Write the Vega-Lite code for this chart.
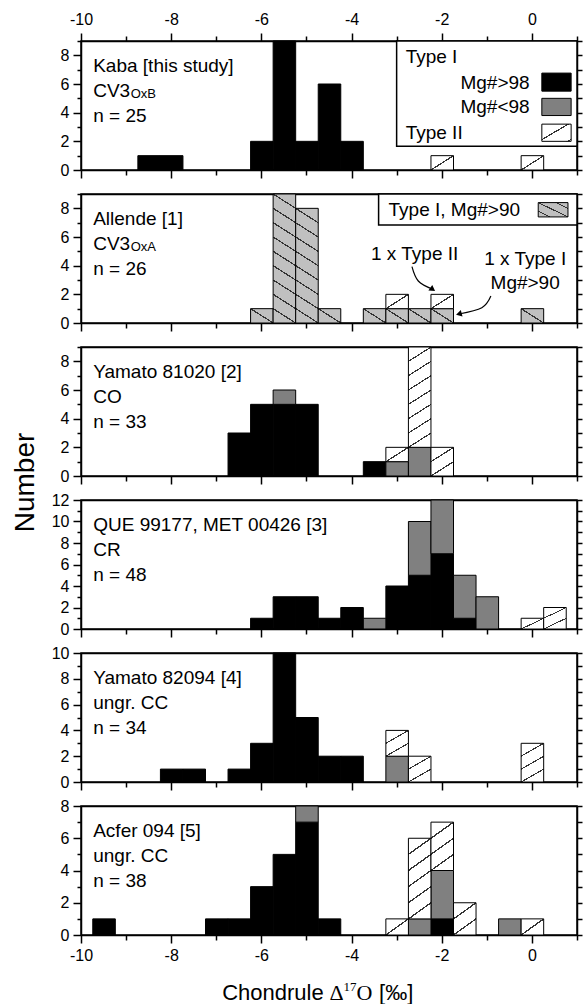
{
 "$schema": "https://vega.github.io/schema/vega-lite/v6.json",
 "padding": {"left": 10, "top": 10, "right": 2, "bottom": 2},
 "background": "white",
 "spacing": 24,
 "bounds": "flush",
 "datasets": {
  "counts": [
   {"p":1,"lo":-8.75,"hi":-8.25,"type":"I>98","grp":1,"n":1},
   {"p":1,"lo":-8.25,"hi":-7.75,"type":"I>98","grp":1,"n":1},
   {"p":1,"lo":-6.25,"hi":-5.75,"type":"I>98","grp":1,"n":2},
   {"p":1,"lo":-5.75,"hi":-5.25,"type":"I>98","grp":1,"n":9},
   {"p":1,"lo":-5.25,"hi":-4.75,"type":"I>98","grp":1,"n":2},
   {"p":1,"lo":-4.75,"hi":-4.25,"type":"I>98","grp":1,"n":6},
   {"p":1,"lo":-4.25,"hi":-3.75,"type":"I>98","grp":1,"n":2},
   {"p":1,"lo":-2.25,"hi":-1.75,"type":"II","grp":3,"n":1},
   {"p":1,"lo":-0.25,"hi":0.25,"type":"II","grp":3,"n":1},
   {"p":2,"lo":-6.25,"hi":-5.75,"type":"I>90","grp":0,"n":1},
   {"p":2,"lo":-5.75,"hi":-5.25,"type":"I>90","grp":0,"n":9},
   {"p":2,"lo":-5.25,"hi":-4.75,"type":"I>90","grp":0,"n":8},
   {"p":2,"lo":-4.75,"hi":-4.25,"type":"I>90","grp":0,"n":1},
   {"p":2,"lo":-3.75,"hi":-3.25,"type":"I>90","grp":0,"n":1},
   {"p":2,"lo":-3.25,"hi":-2.75,"type":"I>90","grp":0,"n":1},
   {"p":2,"lo":-2.75,"hi":-2.25,"type":"I>90","grp":0,"n":1},
   {"p":2,"lo":-2.25,"hi":-1.75,"type":"I>90","grp":0,"n":1},
   {"p":2,"lo":-0.25,"hi":0.25,"type":"I>90","grp":0,"n":1},
   {"p":2,"lo":-3.25,"hi":-2.75,"type":"II","grp":3,"n":1},
   {"p":2,"lo":-2.25,"hi":-1.75,"type":"II","grp":3,"n":1},
   {"p":3,"lo":-6.75,"hi":-6.25,"type":"I>98","grp":1,"n":3},
   {"p":3,"lo":-6.25,"hi":-5.75,"type":"I>98","grp":1,"n":5},
   {"p":3,"lo":-5.75,"hi":-5.25,"type":"I>98","grp":1,"n":5},
   {"p":3,"lo":-5.25,"hi":-4.75,"type":"I>98","grp":1,"n":5},
   {"p":3,"lo":-3.75,"hi":-3.25,"type":"I>98","grp":1,"n":1},
   {"p":3,"lo":-5.75,"hi":-5.25,"type":"I<98","grp":2,"n":1},
   {"p":3,"lo":-3.25,"hi":-2.75,"type":"I<98","grp":2,"n":1},
   {"p":3,"lo":-2.75,"hi":-2.25,"type":"I<98","grp":2,"n":2},
   {"p":3,"lo":-3.25,"hi":-2.75,"type":"II","grp":3,"n":1},
   {"p":3,"lo":-2.75,"hi":-2.25,"type":"II","grp":3,"n":7},
   {"p":3,"lo":-2.25,"hi":-1.75,"type":"II","grp":3,"n":2},
   {"p":4,"lo":-6.25,"hi":-5.75,"type":"I>98","grp":1,"n":1},
   {"p":4,"lo":-5.75,"hi":-5.25,"type":"I>98","grp":1,"n":3},
   {"p":4,"lo":-5.25,"hi":-4.75,"type":"I>98","grp":1,"n":3},
   {"p":4,"lo":-4.75,"hi":-4.25,"type":"I>98","grp":1,"n":1},
   {"p":4,"lo":-4.25,"hi":-3.75,"type":"I>98","grp":1,"n":2},
   {"p":4,"lo":-3.25,"hi":-2.75,"type":"I>98","grp":1,"n":4},
   {"p":4,"lo":-2.75,"hi":-2.25,"type":"I>98","grp":1,"n":5},
   {"p":4,"lo":-2.25,"hi":-1.75,"type":"I>98","grp":1,"n":7},
   {"p":4,"lo":-1.75,"hi":-1.25,"type":"I>98","grp":1,"n":1},
   {"p":4,"lo":-3.75,"hi":-3.25,"type":"I<98","grp":2,"n":1},
   {"p":4,"lo":-2.75,"hi":-2.25,"type":"I<98","grp":2,"n":5},
   {"p":4,"lo":-2.25,"hi":-1.75,"type":"I<98","grp":2,"n":5},
   {"p":4,"lo":-1.75,"hi":-1.25,"type":"I<98","grp":2,"n":4},
   {"p":4,"lo":-1.25,"hi":-0.75,"type":"I<98","grp":2,"n":3},
   {"p":4,"lo":-0.25,"hi":0.25,"type":"II","grp":3,"n":1},
   {"p":4,"lo":0.25,"hi":0.75,"type":"II","grp":3,"n":2},
   {"p":5,"lo":-8.25,"hi":-7.75,"type":"I>98","grp":1,"n":1},
   {"p":5,"lo":-7.75,"hi":-7.25,"type":"I>98","grp":1,"n":1},
   {"p":5,"lo":-6.75,"hi":-6.25,"type":"I>98","grp":1,"n":1},
   {"p":5,"lo":-6.25,"hi":-5.75,"type":"I>98","grp":1,"n":3},
   {"p":5,"lo":-5.75,"hi":-5.25,"type":"I>98","grp":1,"n":10},
   {"p":5,"lo":-5.25,"hi":-4.75,"type":"I>98","grp":1,"n":5},
   {"p":5,"lo":-4.75,"hi":-4.25,"type":"I>98","grp":1,"n":2},
   {"p":5,"lo":-4.25,"hi":-3.75,"type":"I>98","grp":1,"n":2},
   {"p":5,"lo":-3.25,"hi":-2.75,"type":"I<98","grp":2,"n":2},
   {"p":5,"lo":-3.25,"hi":-2.75,"type":"II","grp":3,"n":2},
   {"p":5,"lo":-2.75,"hi":-2.25,"type":"II","grp":3,"n":2},
   {"p":5,"lo":-0.25,"hi":0.25,"type":"II","grp":3,"n":3},
   {"p":6,"lo":-9.75,"hi":-9.25,"type":"I>98","grp":1,"n":1},
   {"p":6,"lo":-7.25,"hi":-6.75,"type":"I>98","grp":1,"n":1},
   {"p":6,"lo":-6.75,"hi":-6.25,"type":"I>98","grp":1,"n":1},
   {"p":6,"lo":-6.25,"hi":-5.75,"type":"I>98","grp":1,"n":3},
   {"p":6,"lo":-5.75,"hi":-5.25,"type":"I>98","grp":1,"n":5},
   {"p":6,"lo":-5.25,"hi":-4.75,"type":"I>98","grp":1,"n":7},
   {"p":6,"lo":-4.75,"hi":-4.25,"type":"I>98","grp":1,"n":1},
   {"p":6,"lo":-2.25,"hi":-1.75,"type":"I>98","grp":1,"n":1},
   {"p":6,"lo":-5.25,"hi":-4.75,"type":"I<98","grp":2,"n":1},
   {"p":6,"lo":-2.75,"hi":-2.25,"type":"I<98","grp":2,"n":1},
   {"p":6,"lo":-2.25,"hi":-1.75,"type":"I<98","grp":2,"n":3},
   {"p":6,"lo":-0.75,"hi":-0.25,"type":"I<98","grp":2,"n":1},
   {"p":6,"lo":-3.25,"hi":-2.75,"type":"II","grp":3,"n":1},
   {"p":6,"lo":-2.75,"hi":-2.25,"type":"II","grp":3,"n":5},
   {"p":6,"lo":-2.25,"hi":-1.75,"type":"II","grp":3,"n":3},
   {"p":6,"lo":-1.75,"hi":-1.25,"type":"II","grp":3,"n":2},
   {"p":6,"lo":-0.25,"hi":0.25,"type":"II","grp":3,"n":1}
  ],
  "arrows": [
   {"a":1,"o":1,"x":-2.66,"y":3.93},
   {"a":1,"o":2,"x":-2.52,"y":2.93},
   {"a":1,"o":3,"x":-2.2,"y":2.35},
   {"a":2,"o":1,"x":-0.91,"y":1.88},
   {"a":2,"o":2,"x":-1.11,"y":1.07},
   {"a":2,"o":3,"x":-1.62,"y":0.63}
  ]
 },
 "config": {
  "view": {"stroke": "black", "strokeWidth": 1.5},
  "axis": {"domainColor":"black","domainWidth":1.5,"tickColor":"black","tickWidth":1.5,"labelFont":"Liberation Sans","labelFontSize":16,"labelColor":"black","grid":false,"titleFont":"Liberation Sans","titleFontSize":22,"titleFontWeight":"normal","titleColor":"black","labelFlush":false,"labelOverlap":false,"labelBound":false},
  "bar": {"binSpacing": 0},
  "text": {"font":"Liberation Sans","fontSize":19,"fill":"black"}
 },
 "vconcat": [
  {
   "width": 496, "height": 129,
   "resolve": {"axis": {"x":"independent","y":"independent"}},
   "layer": [
    {
     "data": {"name":"counts"},
     "transform": [{"filter":"datum.p === 1"}],
     "mark": {"type":"bar","stroke":"black","strokeWidth":1,"binSpacing":0},
     "encoding": {
      "x": {"field":"lo","type":"quantitative","bin":{"binned":true,"step":0.5},"scale":{"domain":[-10,1],"nice":false,"zero":false},
            "axis":{"orient":"bottom","values":[-10,-9,-8,-7,-6,-5,-4,-3,-2,-1,0,1],"tickSize":{"condition":{"test":"datum.value % 2 === 0","value":8},"value":5},"labels":false,"title":null}},
      "x2": {"field":"hi"},
      "y": {"field":"n","type":"quantitative","stack":"zero","scale":{"domain":[0,9],"nice":false},
            "axis":{"orient":"left","values":[0,1,2,3,4,5,6,7,8,9],"tickSize":{"condition":{"test":"datum.value % 2 === 0","value":8},"value":4},"labelExpr":"datum.value % 2 === 0 ? '' + datum.value : ''","labelPadding":4,"title":null}},
      "detail": {"field":"grp","type":"nominal"},
      "order": {"field":"grp","type":"quantitative"},
      "fill": {"condition":[
        {"test":"datum.type === 'II'","value":{"gradient":"linear","x1":0,"y1":0,"x2":1,"y2":1,"stops":[{"offset":0,"color":"white"},{"offset":0.475,"color":"white"},{"offset":0.475,"color":"#333"},{"offset":0.525,"color":"#333"},{"offset":0.525,"color":"white"},{"offset":1,"color":"white"}]}}
       ],"value":"black"}
     }
    },
    {
     "data": {"name":"counts"},
     "transform": [{"filter":"datum.p === 1"}],
     "mark": {"type":"point","opacity":0},
     "encoding": {
      "x": {"field":"lo","type":"quantitative","scale":{"domain":[-10,1],"nice":false,"zero":false},
            "axis":{"orient":"top","values":[-10,-9,-8,-7,-6,-5,-4,-3,-2,-1,0,1],"tickSize":{"condition":{"test":"datum.value % 2 === 0","value":8},"value":5},"labelExpr":"datum.value % 2 === 0 ? '' + datum.value : ''","labelPadding":6,"title":null}},
      "y": {"field":"n","type":"quantitative","scale":{"domain":[0,9],"nice":false},
            "axis":{"orient":"right","values":[0,1,2,3,4,5,6,7,8,9],"tickSize":5,"labels":false,"title":null}}
     }
    },
    {
     "data": {"values":[{}]},
     "mark": {"type":"text","text":["Kaba [this study]","CV3","n = 25"],"align":"left","baseline":"top","dy":16,"lineHeight":25},
     "encoding": {"x":{"datum":-9.73,"type":"quantitative","axis":null},"y":{"datum":9,"type":"quantitative","axis":null}}
    },
    {
     "data": {"values":[{}]},
     "mark": {"type":"text","text":"OxB","align":"left","baseline":"top","dx":37.5,"dy":47,"fontSize":13},
     "encoding": {"x":{"datum":-9.73,"type":"quantitative","axis":null},"y":{"datum":9,"type":"quantitative","axis":null}}
    },
    {
     "data": {"values":[{}]},
     "mark": {"type":"rect","fill":"white","stroke":"black","strokeWidth":1.5},
     "encoding": {"x":{"datum":-3,"type":"quantitative","axis":null},"x2":{"datum":1},"y":{"datum":1.65,"type":"quantitative","axis":null},"y2":{"datum":9}}
    },
    {
     "data": {"values":[{}]},
     "mark": {"type":"text","text":"Type I","align":"left","baseline":"middle"},
     "encoding": {"x":{"datum":-2.8,"type":"quantitative","axis":null},"y":{"datum":7.9,"type":"quantitative","axis":null}}
    },
    {
     "data": {"values":[{}]},
     "mark": {"type":"text","text":"Mg#>98","align":"right","baseline":"middle"},
     "encoding": {"x":{"datum":-0.05,"type":"quantitative","axis":null},"y":{"datum":6.1,"type":"quantitative","axis":null}}
    },
    {
     "data": {"values":[{}]},
     "mark": {"type":"text","text":"Mg#<98","align":"right","baseline":"middle"},
     "encoding": {"x":{"datum":-0.05,"type":"quantitative","axis":null},"y":{"datum":4.4,"type":"quantitative","axis":null}}
    },
    {
     "data": {"values":[{}]},
     "mark": {"type":"text","text":"Type II","align":"left","baseline":"middle"},
     "encoding": {"x":{"datum":-2.8,"type":"quantitative","axis":null},"y":{"datum":2.6,"type":"quantitative","axis":null}}
    },
    {
     "data": {"values":[{}]},
     "mark": {"type":"rect","fill":"black","stroke":"black","strokeWidth":1},
     "encoding": {"x":{"datum":0.22,"type":"quantitative","axis":null},"x2":{"datum":0.87},"y":{"datum":5.5,"type":"quantitative","axis":null},"y2":{"datum":6.76}}
    },
    {
     "data": {"values":[{}]},
     "mark": {"type":"rect","fill":"#808080","stroke":"black","strokeWidth":1},
     "encoding": {"x":{"datum":0.22,"type":"quantitative","axis":null},"x2":{"datum":0.87},"y":{"datum":3.8,"type":"quantitative","axis":null},"y2":{"datum":5.0}}
    },
    {
     "data": {"values":[{}]},
     "mark": {"type":"rect","stroke":"black","strokeWidth":1,"fill":{"gradient":"linear","x1":0,"y1":0,"x2":1,"y2":1,"stops":[{"offset":0,"color":"white"},{"offset":0.43,"color":"white"},{"offset":0.43,"color":"#333"},{"offset":0.47,"color":"#333"},{"offset":0.47,"color":"white"},{"offset":0.92,"color":"white"},{"offset":0.92,"color":"#333"},{"offset":0.96,"color":"#333"},{"offset":0.96,"color":"white"},{"offset":1,"color":"white"}]}},
     "encoding": {"x":{"datum":0.22,"type":"quantitative","axis":null},"x2":{"datum":0.87},"y":{"datum":2.0,"type":"quantitative","axis":null},"y2":{"datum":3.2}}
    }
   ]
  },
  {
   "width": 496, "height": 129,
   "resolve": {"axis": {"x":"independent","y":"independent"}},
   "layer": [
    {
     "data": {"name":"counts"},
     "transform": [{"filter":"datum.p === 2"}],
     "mark": {"type":"bar","stroke":"black","strokeWidth":1,"binSpacing":0},
     "encoding": {
      "x": {"field":"lo","type":"quantitative","bin":{"binned":true,"step":0.5},"scale":{"domain":[-10,1],"nice":false,"zero":false},
            "axis":{"orient":"bottom","values":[-10,-9,-8,-7,-6,-5,-4,-3,-2,-1,0,1],"tickSize":{"condition":{"test":"datum.value % 2 === 0","value":8},"value":5},"labels":false,"title":null}},
      "x2": {"field":"hi"},
      "y": {"field":"n","type":"quantitative","stack":"zero","scale":{"domain":[0,9],"nice":false},
            "axis":{"orient":"left","values":[0,1,2,3,4,5,6,7,8,9],"tickSize":{"condition":{"test":"datum.value % 2 === 0","value":8},"value":4},"labelExpr":"datum.value % 2 === 0 ? '' + datum.value : ''","labelPadding":4,"title":null}},
      "detail": {"field":"grp","type":"nominal"},
      "order": {"field":"grp","type":"quantitative"},
      "fill": {"condition":[
        {"test":"datum.type === 'II'","value":{"gradient":"linear","x1":0,"y1":0,"x2":1,"y2":1,"stops":[{"offset":0,"color":"white"},{"offset":0.475,"color":"white"},{"offset":0.475,"color":"#333"},{"offset":0.525,"color":"#333"},{"offset":0.525,"color":"white"},{"offset":1,"color":"white"}]}},
        {"test":"datum.n === 9","value":{"gradient":"linear","x1":0,"y1":1,"x2":0.122,"y2":-0.0976,"stops":[{"offset":0,"color":"#c0c0c0"},{"offset":0.095,"color":"#c0c0c0"},{"offset":0.095,"color":"#333"},{"offset":0.105,"color":"#333"},{"offset":0.105,"color":"#c0c0c0"},{"offset":0.195,"color":"#c0c0c0"},{"offset":0.195,"color":"#333"},{"offset":0.205,"color":"#333"},{"offset":0.205,"color":"#c0c0c0"},{"offset":0.295,"color":"#c0c0c0"},{"offset":0.295,"color":"#333"},{"offset":0.305,"color":"#333"},{"offset":0.305,"color":"#c0c0c0"},{"offset":0.395,"color":"#c0c0c0"},{"offset":0.395,"color":"#333"},{"offset":0.405,"color":"#333"},{"offset":0.405,"color":"#c0c0c0"},{"offset":0.495,"color":"#c0c0c0"},{"offset":0.495,"color":"#333"},{"offset":0.505,"color":"#333"},{"offset":0.505,"color":"#c0c0c0"},{"offset":0.595,"color":"#c0c0c0"},{"offset":0.595,"color":"#333"},{"offset":0.605,"color":"#333"},{"offset":0.605,"color":"#c0c0c0"},{"offset":0.695,"color":"#c0c0c0"},{"offset":0.695,"color":"#333"},{"offset":0.705,"color":"#333"},{"offset":0.705,"color":"#c0c0c0"},{"offset":0.795,"color":"#c0c0c0"},{"offset":0.795,"color":"#333"},{"offset":0.805,"color":"#333"},{"offset":0.805,"color":"#c0c0c0"},{"offset":0.895,"color":"#c0c0c0"},{"offset":0.895,"color":"#333"},{"offset":0.905,"color":"#333"},{"offset":0.905,"color":"#c0c0c0"},{"offset":1,"color":"#c0c0c0"}]}},
        {"test":"datum.n === 8","value":{"gradient":"linear","x1":0,"y1":1,"x2":0.1385,"y2":-0.1077,"stops":[{"offset":0,"color":"#c0c0c0"},{"offset":0.106,"color":"#c0c0c0"},{"offset":0.106,"color":"#333"},{"offset":0.117,"color":"#333"},{"offset":0.117,"color":"#c0c0c0"},{"offset":0.217,"color":"#c0c0c0"},{"offset":0.217,"color":"#333"},{"offset":0.228,"color":"#333"},{"offset":0.228,"color":"#c0c0c0"},{"offset":0.328,"color":"#c0c0c0"},{"offset":0.328,"color":"#333"},{"offset":0.339,"color":"#333"},{"offset":0.339,"color":"#c0c0c0"},{"offset":0.439,"color":"#c0c0c0"},{"offset":0.439,"color":"#333"},{"offset":0.45,"color":"#333"},{"offset":0.45,"color":"#c0c0c0"},{"offset":0.55,"color":"#c0c0c0"},{"offset":0.55,"color":"#333"},{"offset":0.561,"color":"#333"},{"offset":0.561,"color":"#c0c0c0"},{"offset":0.661,"color":"#c0c0c0"},{"offset":0.661,"color":"#333"},{"offset":0.672,"color":"#333"},{"offset":0.672,"color":"#c0c0c0"},{"offset":0.772,"color":"#c0c0c0"},{"offset":0.772,"color":"#333"},{"offset":0.783,"color":"#333"},{"offset":0.783,"color":"#c0c0c0"},{"offset":0.883,"color":"#c0c0c0"},{"offset":0.883,"color":"#333"},{"offset":0.894,"color":"#333"},{"offset":0.894,"color":"#c0c0c0"},{"offset":1,"color":"#c0c0c0"}]}}
       ],"value":{"gradient":"linear","x1":0,"y1":1,"x2":1,"y2":0,"stops":[{"offset":0,"color":"#c0c0c0"},{"offset":0.475,"color":"#c0c0c0"},{"offset":0.475,"color":"#333"},{"offset":0.525,"color":"#333"},{"offset":0.525,"color":"#c0c0c0"},{"offset":1,"color":"#c0c0c0"}]}}
     }
    },
    {
     "data": {"name":"counts"},
     "transform": [{"filter":"datum.p === 2"}],
     "mark": {"type":"point","opacity":0},
     "encoding": {
      "x": {"field":"lo","type":"quantitative","scale":{"domain":[-10,1],"nice":false,"zero":false},"axis":{"orient":"top","ticks":false,"labels":false,"title":null}},
      "y": {"field":"n","type":"quantitative","scale":{"domain":[0,9],"nice":false},"axis":{"orient":"right","values":[0,1,2,3,4,5,6,7,8,9],"tickSize":5,"labels":false,"title":null}}
     }
    },
    {
     "data": {"values":[{}]},
     "mark": {"type":"text","text":["Allende [1]","CV3","n = 26"],"align":"left","baseline":"top","dy":16,"lineHeight":25},
     "encoding": {"x":{"datum":-9.73,"type":"quantitative","axis":null},"y":{"datum":9,"type":"quantitative","axis":null}}
    },
    {
     "data": {"values":[{}]},
     "mark": {"type":"text","text":"OxA","align":"left","baseline":"top","dx":37.5,"dy":47,"fontSize":13},
     "encoding": {"x":{"datum":-9.73,"type":"quantitative","axis":null},"y":{"datum":9,"type":"quantitative","axis":null}}
    },
    {
     "data": {"values":[{}]},
     "mark": {"type":"rect","fill":"white","stroke":"black","strokeWidth":1.5},
     "encoding": {"x":{"datum":-3.4,"type":"quantitative","axis":null},"x2":{"datum":1},"y":{"datum":6.84,"type":"quantitative","axis":null},"y2":{"datum":9}}
    },
    {
     "data": {"values":[{}]},
     "mark": {"type":"text","text":"Type I, Mg#>90","align":"left","baseline":"middle"},
     "encoding": {"x":{"datum":-3.18,"type":"quantitative","axis":null},"y":{"datum":7.9,"type":"quantitative","axis":null}}
    },
    {
     "data": {"values":[{}]},
     "mark": {"type":"rect","stroke":"black","strokeWidth":1,"fill":{"gradient":"linear","x1":0,"y1":1,"x2":1,"y2":0,"stops":[{"offset":0,"color":"#c0c0c0"},{"offset":0.18,"color":"#c0c0c0"},{"offset":0.18,"color":"#333"},{"offset":0.22,"color":"#333"},{"offset":0.22,"color":"#c0c0c0"},{"offset":0.48,"color":"#c0c0c0"},{"offset":0.48,"color":"#333"},{"offset":0.52,"color":"#333"},{"offset":0.52,"color":"#c0c0c0"},{"offset":0.78,"color":"#c0c0c0"},{"offset":0.78,"color":"#333"},{"offset":0.82,"color":"#333"},{"offset":0.82,"color":"#c0c0c0"},{"offset":1,"color":"#c0c0c0"}]}},
     "encoding": {"x":{"datum":0.14,"type":"quantitative","axis":null},"x2":{"datum":0.8},"y":{"datum":7.4,"type":"quantitative","axis":null},"y2":{"datum":8.4}}
    },
    {
     "data": {"values":[{}]},
     "mark": {"type":"text","text":"1 x Type II","align":"center","baseline":"middle"},
     "encoding": {"x":{"datum":-2.6,"type":"quantitative","axis":null},"y":{"datum":4.8,"type":"quantitative","axis":null}}
    },
    {
     "data": {"values":[{}]},
     "mark": {"type":"text","text":"1 x Type I","align":"center","baseline":"middle"},
     "encoding": {"x":{"datum":-0.15,"type":"quantitative","axis":null},"y":{"datum":4.44,"type":"quantitative","axis":null}}
    },
    {
     "data": {"values":[{}]},
     "mark": {"type":"text","text":"Mg#>90","align":"center","baseline":"middle"},
     "encoding": {"x":{"datum":-0.15,"type":"quantitative","axis":null},"y":{"datum":2.81,"type":"quantitative","axis":null}}
    },
    {
     "data": {"name":"arrows"},
     "mark": {"type":"line","interpolate":"cardinal","color":"black","strokeWidth":1.2},
     "encoding": {"x":{"field":"x","type":"quantitative","axis":null},"y":{"field":"y","type":"quantitative","axis":null},"detail":{"field":"a","type":"nominal"},"order":{"field":"o","type":"quantitative"}}
    },
    {
     "data": {"values":[{}]},
     "mark": {"type":"point","shape":"triangle-up","filled":true,"color":"black","opacity":1,"size":45,"angle":125},
     "encoding": {"x":{"datum":-2.2,"type":"quantitative","axis":null},"y":{"datum":2.35,"type":"quantitative","axis":null}}
    },
    {
     "data": {"values":[{}]},
     "mark": {"type":"point","shape":"triangle-up","filled":true,"color":"black","opacity":1,"size":45,"angle":255},
     "encoding": {"x":{"datum":-1.62,"type":"quantitative","axis":null},"y":{"datum":0.63,"type":"quantitative","axis":null}}
    }
   ]
  },
  {
   "width": 496, "height": 129,
   "resolve": {"axis": {"x":"independent","y":"independent"}},
   "layer": [
    {
     "data": {"name":"counts"},
     "transform": [{"filter":"datum.p === 3"}],
     "mark": {"type":"bar","stroke":"black","strokeWidth":1,"binSpacing":0},
     "encoding": {
      "x": {"field":"lo","type":"quantitative","bin":{"binned":true,"step":0.5},"scale":{"domain":[-10,1],"nice":false,"zero":false},
            "axis":{"orient":"bottom","values":[-10,-9,-8,-7,-6,-5,-4,-3,-2,-1,0,1],"tickSize":{"condition":{"test":"datum.value % 2 === 0","value":8},"value":5},"labels":false,"title":null}},
      "x2": {"field":"hi"},
      "y": {"field":"n","type":"quantitative","stack":"zero","scale":{"domain":[0,9],"nice":false},
            "axis":{"orient":"left","values":[0,1,2,3,4,5,6,7,8,9],"tickSize":{"condition":{"test":"datum.value % 2 === 0","value":8},"value":4},"labelExpr":"datum.value % 2 === 0 ? '' + datum.value : ''","labelPadding":4,"title":"Number","titleX":-56,"titleY":135,"titleAngle":-90,"titleAlign":"center","titleBaseline":"middle","titleFontSize":28}},
      "detail": {"field":"grp","type":"nominal"},
      "order": {"field":"grp","type":"quantitative"},
      "fill": {"condition":[
        {"test":"datum.type === 'I<98'","value":"#808080"},
        {"test":"datum.type === 'II' && datum.n === 1","value":{"gradient":"linear","x1":0,"y1":0,"x2":1,"y2":1,"stops":[{"offset":0,"color":"white"},{"offset":0.475,"color":"white"},{"offset":0.475,"color":"#333"},{"offset":0.525,"color":"#333"},{"offset":0.525,"color":"white"},{"offset":1,"color":"white"}]}},
        {"test":"datum.type === 'II' && datum.n === 2","value":{"gradient":"linear","x1":0,"y1":0,"x2":0.6,"y2":1.2,"stops":[{"offset":0,"color":"white"},{"offset":0.317,"color":"white"},{"offset":0.317,"color":"#333"},{"offset":0.35,"color":"#333"},{"offset":0.35,"color":"white"},{"offset":0.65,"color":"white"},{"offset":0.65,"color":"#333"},{"offset":0.683,"color":"#333"},{"offset":0.683,"color":"white"},{"offset":1,"color":"white"}]}},
        {"test":"datum.type === 'II' && datum.n === 7","value":{"gradient":"linear","x1":0,"y1":0,"x2":0.16,"y2":1.12,"stops":[{"offset":0,"color":"white"},{"offset":0.119,"color":"white"},{"offset":0.119,"color":"#333"},{"offset":0.131,"color":"#333"},{"offset":0.131,"color":"white"},{"offset":0.244,"color":"white"},{"offset":0.244,"color":"#333"},{"offset":0.256,"color":"#333"},{"offset":0.256,"color":"white"},{"offset":0.369,"color":"white"},{"offset":0.369,"color":"#333"},{"offset":0.381,"color":"#333"},{"offset":0.381,"color":"white"},{"offset":0.494,"color":"white"},{"offset":0.494,"color":"#333"},{"offset":0.506,"color":"#333"},{"offset":0.506,"color":"white"},{"offset":0.619,"color":"white"},{"offset":0.619,"color":"#333"},{"offset":0.631,"color":"#333"},{"offset":0.631,"color":"white"},{"offset":0.744,"color":"white"},{"offset":0.744,"color":"#333"},{"offset":0.756,"color":"#333"},{"offset":0.756,"color":"white"},{"offset":0.869,"color":"white"},{"offset":0.869,"color":"#333"},{"offset":0.881,"color":"#333"},{"offset":0.881,"color":"white"},{"offset":1,"color":"white"}]}}
       ],"value":"black"}
     }
    },
    {
     "data": {"name":"counts"},
     "transform": [{"filter":"datum.p === 3"}],
     "mark": {"type":"point","opacity":0},
     "encoding": {
      "x": {"field":"lo","type":"quantitative","scale":{"domain":[-10,1],"nice":false,"zero":false},"axis":{"orient":"top","ticks":false,"labels":false,"title":null}},
      "y": {"field":"n","type":"quantitative","scale":{"domain":[0,9],"nice":false},"axis":{"orient":"right","values":[0,1,2,3,4,5,6,7,8,9],"tickSize":5,"labels":false,"title":null}}
     }
    },
    {
     "data": {"values":[{}]},
     "mark": {"type":"text","text":["Yamato 81020 [2]","CO","n = 33"],"align":"left","baseline":"top","dy":16,"lineHeight":25},
     "encoding": {"x":{"datum":-9.73,"type":"quantitative","axis":null},"y":{"datum":9,"type":"quantitative","axis":null}}
    }
   ]
  },
  {
   "width": 496, "height": 129,
   "resolve": {"axis": {"x":"independent","y":"independent"}},
   "layer": [
    {
     "data": {"name":"counts"},
     "transform": [{"filter":"datum.p === 4"}],
     "mark": {"type":"bar","stroke":"black","strokeWidth":1,"binSpacing":0},
     "encoding": {
      "x": {"field":"lo","type":"quantitative","bin":{"binned":true,"step":0.5},"scale":{"domain":[-10,1],"nice":false,"zero":false},
            "axis":{"orient":"bottom","values":[-10,-9,-8,-7,-6,-5,-4,-3,-2,-1,0,1],"tickSize":{"condition":{"test":"datum.value % 2 === 0","value":8},"value":5},"labels":false,"title":null}},
      "x2": {"field":"hi"},
      "y": {"field":"n","type":"quantitative","stack":"zero","scale":{"domain":[0,12],"nice":false},
            "axis":{"orient":"left","values":[0,1,2,3,4,5,6,7,8,9,10,11,12],"tickSize":{"condition":{"test":"datum.value % 2 === 0","value":8},"value":4},"labelExpr":"datum.value % 2 === 0 ? '' + datum.value : ''","labelPadding":4,"title":null}},
      "detail": {"field":"grp","type":"nominal"},
      "order": {"field":"grp","type":"quantitative"},
      "fill": {"condition":[
        {"test":"datum.type === 'I<98'","value":"#808080"},
        {"test":"datum.type === 'II' && datum.n === 1","value":{"gradient":"linear","x1":0,"y1":0,"x2":1,"y2":1,"stops":[{"offset":0,"color":"white"},{"offset":0.475,"color":"white"},{"offset":0.475,"color":"#333"},{"offset":0.525,"color":"#333"},{"offset":0.525,"color":"white"},{"offset":1,"color":"white"}]}},
        {"test":"datum.type === 'II' && datum.n === 2","value":{"gradient":"linear","x1":0,"y1":0,"x2":0.6,"y2":1.2,"stops":[{"offset":0,"color":"white"},{"offset":0.317,"color":"white"},{"offset":0.317,"color":"#333"},{"offset":0.35,"color":"#333"},{"offset":0.35,"color":"white"},{"offset":0.65,"color":"white"},{"offset":0.65,"color":"#333"},{"offset":0.683,"color":"#333"},{"offset":0.683,"color":"white"},{"offset":1,"color":"white"}]}}
       ],"value":"black"}
     }
    },
    {
     "data": {"name":"counts"},
     "transform": [{"filter":"datum.p === 4"}],
     "mark": {"type":"point","opacity":0},
     "encoding": {
      "x": {"field":"lo","type":"quantitative","scale":{"domain":[-10,1],"nice":false,"zero":false},"axis":{"orient":"top","ticks":false,"labels":false,"title":null}},
      "y": {"field":"n","type":"quantitative","scale":{"domain":[0,12],"nice":false},"axis":{"orient":"right","values":[0,1,2,3,4,5,6,7,8,9,10,11,12],"tickSize":5,"labels":false,"title":null}}
     }
    },
    {
     "data": {"values":[{}]},
     "mark": {"type":"text","text":["QUE 99177, MET 00426 [3]","CR","n = 48"],"align":"left","baseline":"top","dy":16,"lineHeight":25},
     "encoding": {"x":{"datum":-9.73,"type":"quantitative","axis":null},"y":{"datum":12,"type":"quantitative","axis":null}}
    }
   ]
  },
  {
   "width": 496, "height": 129,
   "resolve": {"axis": {"x":"independent","y":"independent"}},
   "layer": [
    {
     "data": {"name":"counts"},
     "transform": [{"filter":"datum.p === 5"}],
     "mark": {"type":"bar","stroke":"black","strokeWidth":1,"binSpacing":0},
     "encoding": {
      "x": {"field":"lo","type":"quantitative","bin":{"binned":true,"step":0.5},"scale":{"domain":[-10,1],"nice":false,"zero":false},
            "axis":{"orient":"bottom","values":[-10,-9,-8,-7,-6,-5,-4,-3,-2,-1,0,1],"tickSize":{"condition":{"test":"datum.value % 2 === 0","value":8},"value":5},"labels":false,"title":null}},
      "x2": {"field":"hi"},
      "y": {"field":"n","type":"quantitative","stack":"zero","scale":{"domain":[0,10],"nice":false},
            "axis":{"orient":"left","values":[0,1,2,3,4,5,6,7,8,9,10],"tickSize":{"condition":{"test":"datum.value % 2 === 0","value":8},"value":4},"labelExpr":"datum.value % 2 === 0 ? '' + datum.value : ''","labelPadding":4,"title":null}},
      "detail": {"field":"grp","type":"nominal"},
      "order": {"field":"grp","type":"quantitative"},
      "fill": {"condition":[
        {"test":"datum.type === 'I<98'","value":"#808080"},
        {"test":"datum.type === 'II' && datum.n === 2","value":{"gradient":"linear","x1":0,"y1":0,"x2":0.6,"y2":1.2,"stops":[{"offset":0,"color":"white"},{"offset":0.317,"color":"white"},{"offset":0.317,"color":"#333"},{"offset":0.35,"color":"#333"},{"offset":0.35,"color":"white"},{"offset":0.65,"color":"white"},{"offset":0.65,"color":"#333"},{"offset":0.683,"color":"#333"},{"offset":0.683,"color":"white"},{"offset":1,"color":"white"}]}},
        {"test":"datum.type === 'II' && datum.n === 3","value":{"gradient":"linear","x1":0,"y1":0,"x2":0.4,"y2":1.2,"stops":[{"offset":0,"color":"white"},{"offset":0.2375,"color":"white"},{"offset":0.2375,"color":"#333"},{"offset":0.2625,"color":"#333"},{"offset":0.2625,"color":"white"},{"offset":0.4875,"color":"white"},{"offset":0.4875,"color":"#333"},{"offset":0.5125,"color":"#333"},{"offset":0.5125,"color":"white"},{"offset":0.7375,"color":"white"},{"offset":0.7375,"color":"#333"},{"offset":0.7625,"color":"#333"},{"offset":0.7625,"color":"white"},{"offset":1,"color":"white"}]}}
       ],"value":"black"}
     }
    },
    {
     "data": {"name":"counts"},
     "transform": [{"filter":"datum.p === 5"}],
     "mark": {"type":"point","opacity":0},
     "encoding": {
      "x": {"field":"lo","type":"quantitative","scale":{"domain":[-10,1],"nice":false,"zero":false},"axis":{"orient":"top","ticks":false,"labels":false,"title":null}},
      "y": {"field":"n","type":"quantitative","scale":{"domain":[0,10],"nice":false},"axis":{"orient":"right","values":[0,1,2,3,4,5,6,7,8,9,10],"tickSize":5,"labels":false,"title":null}}
     }
    },
    {
     "data": {"values":[{}]},
     "mark": {"type":"text","text":["Yamato 82094 [4]","ungr. CC","n = 34"],"align":"left","baseline":"top","dy":16,"lineHeight":25},
     "encoding": {"x":{"datum":-9.73,"type":"quantitative","axis":null},"y":{"datum":10,"type":"quantitative","axis":null}}
    }
   ]
  },
  {
   "width": 496, "height": 129,
   "resolve": {"axis": {"x":"independent","y":"independent"}},
   "layer": [
    {
     "data": {"name":"counts"},
     "transform": [{"filter":"datum.p === 6"}],
     "mark": {"type":"bar","stroke":"black","strokeWidth":1,"binSpacing":0},
     "encoding": {
      "x": {"field":"lo","type":"quantitative","bin":{"binned":true,"step":0.5},"scale":{"domain":[-10,1],"nice":false,"zero":false},
            "axis":{"orient":"bottom","values":[-10,-9,-8,-7,-6,-5,-4,-3,-2,-1,0,1],"tickSize":{"condition":{"test":"datum.value % 2 === 0","value":8},"value":5},"labelExpr":"datum.value % 2 === 0 ? '' + datum.value : ''","labelPadding":4,"title":null}},
      "x2": {"field":"hi"},
      "y": {"field":"n","type":"quantitative","stack":"zero","scale":{"domain":[0,8],"nice":false},
            "axis":{"orient":"left","values":[0,1,2,3,4,5,6,7,8],"tickSize":{"condition":{"test":"datum.value % 2 === 0","value":8},"value":4},"labelExpr":"datum.value % 2 === 0 ? '' + datum.value : ''","labelPadding":4,"title":null}},
      "detail": {"field":"grp","type":"nominal"},
      "order": {"field":"grp","type":"quantitative"},
      "fill": {"condition":[
        {"test":"datum.type === 'I<98'","value":"#808080"},
        {"test":"datum.type === 'II' && datum.n === 1","value":{"gradient":"linear","x1":0,"y1":0,"x2":1,"y2":1,"stops":[{"offset":0,"color":"white"},{"offset":0.475,"color":"white"},{"offset":0.475,"color":"#333"},{"offset":0.525,"color":"#333"},{"offset":0.525,"color":"white"},{"offset":1,"color":"white"}]}},
        {"test":"datum.type === 'II' && datum.n === 2","value":{"gradient":"linear","x1":0,"y1":0,"x2":0.6,"y2":1.2,"stops":[{"offset":0,"color":"white"},{"offset":0.317,"color":"white"},{"offset":0.317,"color":"#333"},{"offset":0.35,"color":"#333"},{"offset":0.35,"color":"white"},{"offset":0.65,"color":"white"},{"offset":0.65,"color":"#333"},{"offset":0.683,"color":"#333"},{"offset":0.683,"color":"white"},{"offset":1,"color":"white"}]}},
        {"test":"datum.type === 'II' && datum.n === 3","value":{"gradient":"linear","x1":0,"y1":0,"x2":0.4,"y2":1.2,"stops":[{"offset":0,"color":"white"},{"offset":0.2375,"color":"white"},{"offset":0.2375,"color":"#333"},{"offset":0.2625,"color":"#333"},{"offset":0.2625,"color":"white"},{"offset":0.4875,"color":"white"},{"offset":0.4875,"color":"#333"},{"offset":0.5125,"color":"#333"},{"offset":0.5125,"color":"white"},{"offset":0.7375,"color":"white"},{"offset":0.7375,"color":"#333"},{"offset":0.7625,"color":"#333"},{"offset":0.7625,"color":"white"},{"offset":1,"color":"white"}]}},
        {"test":"datum.type === 'II' && datum.n === 5","value":{"gradient":"linear","x1":0,"y1":0,"x2":0.2308,"y2":1.1538,"stops":[{"offset":0,"color":"white"},{"offset":0.158,"color":"white"},{"offset":0.158,"color":"#333"},{"offset":0.175,"color":"#333"},{"offset":0.175,"color":"white"},{"offset":0.325,"color":"white"},{"offset":0.325,"color":"#333"},{"offset":0.342,"color":"#333"},{"offset":0.342,"color":"white"},{"offset":0.492,"color":"white"},{"offset":0.492,"color":"#333"},{"offset":0.508,"color":"#333"},{"offset":0.508,"color":"white"},{"offset":0.658,"color":"white"},{"offset":0.658,"color":"#333"},{"offset":0.675,"color":"#333"},{"offset":0.675,"color":"white"},{"offset":0.825,"color":"white"},{"offset":0.825,"color":"#333"},{"offset":0.842,"color":"#333"},{"offset":0.842,"color":"white"},{"offset":1,"color":"white"}]}}
       ],"value":"black"}
     }
    },
    {
     "data": {"name":"counts"},
     "transform": [{"filter":"datum.p === 6"}],
     "mark": {"type":"point","opacity":0},
     "encoding": {
      "x": {"field":"lo","type":"quantitative","scale":{"domain":[-10,1],"nice":false,"zero":false},"axis":{"orient":"top","ticks":false,"labels":false,"title":null}},
      "y": {"field":"n","type":"quantitative","scale":{"domain":[0,8],"nice":false},"axis":{"orient":"right","values":[0,1,2,3,4,5,6,7,8],"tickSize":5,"labels":false,"title":null}}
     }
    },
    {
     "data": {"values":[{}]},
     "mark": {"type":"text","text":["Acfer 094 [5]","ungr. CC","n = 38"],"align":"left","baseline":"top","dy":16,"lineHeight":25},
     "encoding": {"x":{"datum":-9.73,"type":"quantitative","axis":null},"y":{"datum":8,"type":"quantitative","axis":null}}
    },
    {
     "data": {"values":[{}]},
     "mark": {"type":"text","text":"Chondrule","align":"left","baseline":"alphabetic","fontSize":22},
     "encoding": {"x":{"datum":-6.87,"type":"quantitative","axis":null},"y":{"datum":-4.0,"type":"quantitative","axis":null}}
    },
    {
     "data": {"values":[{}]},
     "mark": {"type":"text","text":"Δ","align":"left","baseline":"alphabetic","fontSize":22,"font":"Liberation Serif"},
     "encoding": {"x":{"datum":-4.49,"type":"quantitative","axis":null},"y":{"datum":-4.0,"type":"quantitative","axis":null}}
    },
    {
     "data": {"values":[{}]},
     "mark": {"type":"text","text":"17","align":"left","baseline":"alphabetic","fontSize":13,"font":"Liberation Serif","dy":-9},
     "encoding": {"x":{"datum":-4.18,"type":"quantitative","axis":null},"y":{"datum":-4.0,"type":"quantitative","axis":null}}
    },
    {
     "data": {"values":[{}]},
     "mark": {"type":"text","text":"O","align":"left","baseline":"alphabetic","fontSize":22,"font":"Liberation Serif"},
     "encoding": {"x":{"datum":-3.89,"type":"quantitative","axis":null},"y":{"datum":-4.0,"type":"quantitative","axis":null}}
    },
    {
     "data": {"values":[{}]},
     "mark": {"type":"text","text":"[‰]","align":"left","baseline":"alphabetic","fontSize":22},
     "encoding": {"x":{"datum":-3.39,"type":"quantitative","axis":null},"y":{"datum":-4.0,"type":"quantitative","axis":null}}
    }
   ]
  }
 ]
}
